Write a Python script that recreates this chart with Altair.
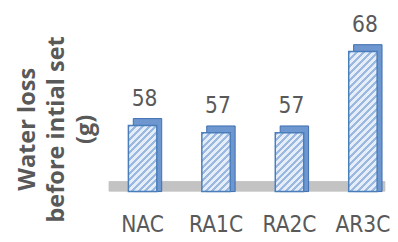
import math
import altair as alt
import pandas as pd

categories = ["NAC", "RA1C", "RA2C", "AR3C"]
values = [58, 57, 57, 68]
y_title = ["Water loss", "before intial set", "(g)"]

df = pd.DataFrame({"cat": categories, "val": values})

W, H = 282, 185
YMIN, YMAX = 49.05, 73.57
FLOOR = 49.75
PAD_INNER, PAD_OUTER, ALIGN = 0.613, 0.187, 0.71
step = W / (len(categories) - PAD_INNER + 2 * PAD_OUTER)
bw = step * (1 - PAD_INNER)
ppu = H / (YMAX - YMIN)

TEXT = "#595959"
NARROW = "Liberation Sans Narrow, DejaVu Sans Condensed, Roboto, sans-serif"
STRIPE_LIGHT = "#e4edf8"
STRIPE_DARK = "#9ab8e0"
PERIOD = 5.0


def hatch(h, w):
    s = (1 / h + 1 / w) / (1 / h ** 2 + 1 / w ** 2)
    n = max(1, round(((w + h) / math.sqrt(2)) / PERIOD))
    stops = []
    for k in range(n):
        a = k / n
        b = (k + 0.45) / n
        c = (k + 1) / n
        stops += [
            {"offset": a, "color": STRIPE_DARK},
            {"offset": b, "color": STRIPE_DARK},
            {"offset": b, "color": STRIPE_LIGHT},
            {"offset": c, "color": STRIPE_LIGHT},
        ]
    return {"gradient": "linear", "x1": 0, "y1": 0,
            "x2": s / h, "y2": s / w, "stops": stops}


xaxis = alt.Axis(title=None, labelAngle=0, ticks=False, domain=False,
                 labelFont=NARROW, labelFontSize=23, labelColor=TEXT,
                 labelPadding=23)
xscale = alt.Scale(paddingInner=PAD_INNER, paddingOuter=PAD_OUTER, align=ALIGN)
xenc = alt.X("cat:N", sort=categories, scale=xscale, axis=xaxis)

yaxis = alt.Axis(title=y_title, labels=False, ticks=False, domain=False,
                 grid=False, titleFont="Open Sans", titleFontSize=24,
                 titleFontWeight="bold", titleColor=TEXT, titleLineHeight=29.5,
                 titlePadding=12, titleY=121)
yscale = alt.Scale(domain=[YMIN, YMAX], nice=False, zero=False)
yenc = alt.Y("val:Q", scale=yscale, axis=yaxis)
y2enc = alt.Y2Datum(YMIN)

base = alt.Chart(df)

floor = base.mark_rule(color="#c3c3c3", strokeWidth=10).encode(
    y=alt.YDatum(FLOOR, type="quantitative", scale=yscale, axis=yaxis)
)

back = base.mark_bar(fill="#6e96cf", stroke="#3c6db0", strokeWidth=1,
                     xOffset=5, yOffset=-7).encode(x=xenc, y=yenc, y2=y2enc)

fronts = []
for c, v in zip(categories, values):
    h = (v - YMIN) * ppu
    fronts.append(
        base.transform_filter(alt.datum.cat == c)
        .mark_bar(fill=hatch(h, bw), stroke="#4a7ebb", strokeWidth=1.5)
        .encode(x=xenc, y=yenc, y2=y2enc)
    )

labels = base.mark_text(font=NARROW, fontSize=23, color=TEXT,
                        baseline="alphabetic", dy=-20, dx=2).encode(
    x=xenc, y=yenc, text="val:Q")

chart = alt.layer(floor, back, *fronts, labels).properties(
    width=W, height=H,
    padding={"left": 8, "top": 0, "right": 0, "bottom": 0}
).configure_view(stroke=None)

chart.save("out.html", embed_options={"renderer": "svg", "actions": False})
